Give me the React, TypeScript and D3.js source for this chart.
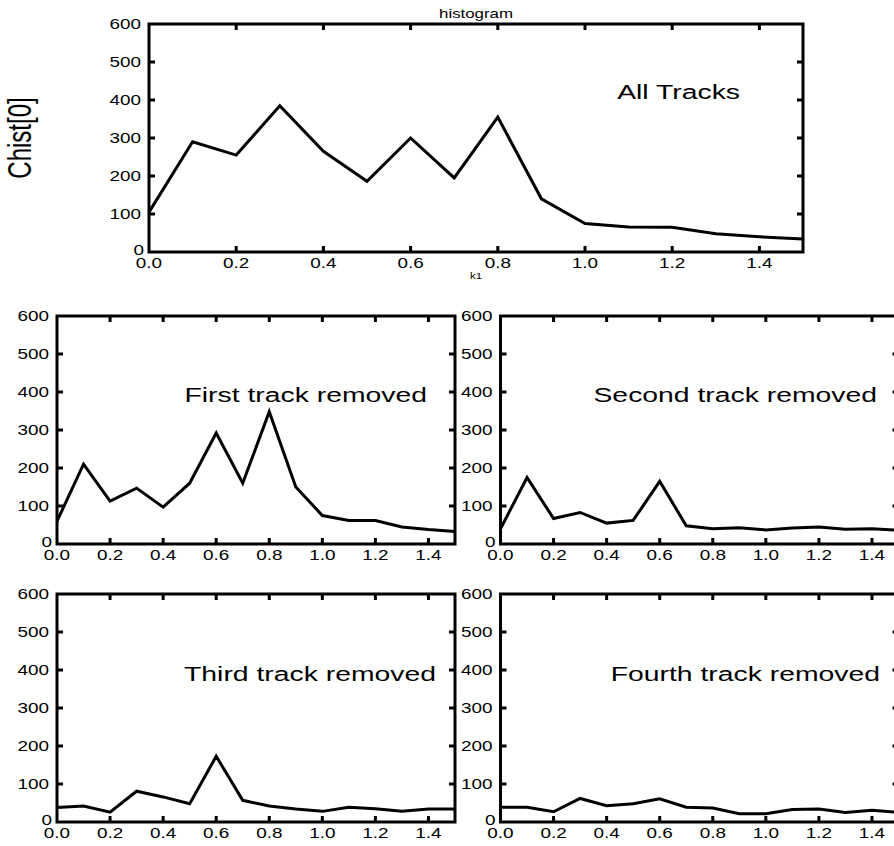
import React from 'react';
import * as d3 from 'd3';

const K1 = [0.0, 0.1, 0.2, 0.3, 0.4, 0.5, 0.6, 0.7, 0.8, 0.9, 1.0, 1.1, 1.2, 1.3, 1.4, 1.5];
const ALL_TRACKS = [105, 290, 255, 385, 265, 186, 300, 195, 355, 140, 75, 66, 65, 48, 40, 34];
const FIRST_REMOVED = [60, 210, 113, 147, 97, 160, 292, 160, 348, 150, 75, 62, 62, 45, 38, 33];
const SECOND_REMOVED = [40, 175, 67, 83, 55, 62, 165, 48, 40, 43, 37, 42, 45, 39, 40, 36];
const THIRD_REMOVED = [38, 42, 26, 81, 66, 48, 173, 57, 42, 34, 28, 39, 35, 28, 34, 34];
const FOURTH_REMOVED = [39, 39, 27, 62, 43, 48, 61, 39, 37, 22, 22, 33, 34, 25, 31, 25];
const X_TICKS = [0.0, 0.2, 0.4, 0.6, 0.8, 1.0, 1.2, 1.4];
const Y_TICKS = [0, 100, 200, 300, 400, 500, 600];
const X_DOMAIN = [0, 1.5];
const Y_DOMAIN = [0, 600];

const FONT = '"Liberation Sans", Arial, Helvetica, sans-serif';
const SX = 1.35;

type TxtProps = { x: number; y: number; size: number; anchor?: string; rotate?: number; children: React.ReactNode };
function Txt({ x, y, size, anchor = 'start', rotate = 0, children }: TxtProps) {
  const t = `translate(${x},${y}) scale(${SX},1)` + (rotate ? ` rotate(${rotate})` : '');
  return (
    <text transform={t} fontFamily={FONT} fontSize={size} textAnchor={anchor} fill="#000">
      {children}
    </text>
  );
}

type PanelProps = {
  left: number; top: number; width: number; height: number;
  values: number[]; label: string; labelDx: number; labelDy: number;
};

function Panel({ left, top, width, height, values, label, labelDx, labelDy }: PanelProps) {
  const x = d3.scaleLinear().domain(X_DOMAIN).range([left, left + width]);
  const y = d3.scaleLinear().domain(Y_DOMAIN).range([top + height, top]);
  const line = d3.line<number>().x((_, i) => x(K1[i])).y((d) => y(d));
  const fmt = d3.format('.1f');
  const tl = 6;
  const bottom = top + height;
  const right = left + width;
  return (
    <g>
      <path d={line(values) || ''} fill="none" stroke="#000" strokeWidth={3} strokeLinejoin="miter" />
      {X_TICKS.slice(1).map((t) => (
        <g key={'xt' + t}>
          <line x1={x(t)} x2={x(t)} y1={bottom} y2={bottom - tl} stroke="#000" strokeWidth={3} />
          <line x1={x(t)} x2={x(t)} y1={top} y2={top + tl} stroke="#000" strokeWidth={3} />
        </g>
      ))}
      {Y_TICKS.slice(1, -1).map((t) => (
        <g key={'yt' + t}>
          <line x1={left} x2={left + tl} y1={y(t)} y2={y(t)} stroke="#000" strokeWidth={3} />
          <line x1={right} x2={right - tl} y1={y(t)} y2={y(t)} stroke="#000" strokeWidth={3} />
        </g>
      ))}
      <rect x={left} y={top} width={width} height={height} fill="none" stroke="#000" strokeWidth={3} />
      {X_TICKS.map((t) => (
        <Txt key={'xl' + t} x={x(t)} y={bottom + 15.5} size={14} anchor="middle">{fmt(t)}</Txt>
      ))}
      {Y_TICKS.map((t) => (
        <Txt key={'yl' + t} x={left - (t === 0 ? 5 : 8)} y={y(t) + (t === 0 ? 2.5 : 5)} size={14} anchor="end">{String(t)}</Txt>
      ))}
      <Txt x={right + labelDx} y={top + labelDy} size={21} anchor="end">{label}</Txt>
    </g>
  );
}

export default function App() {
  const topLeft = 149, topTop = 24, topW = 654, H = 228;
  return (
    <svg width={894} height={846} style={{ position: 'absolute', left: 0, top: 0, background: '#fff' }}>
      <rect x={0} y={0} width={894} height={846} fill="#fff" />
      <Panel left={topLeft} top={topTop} width={topW} height={H} values={ALL_TRACKS} label="All Tracks" labelDx={-63} labelDy={75} />
      <Txt x={topLeft + topW / 2} y={18} size={12.5} anchor="middle">histogram</Txt>
      <Txt x={topLeft + topW / 2} y={279} size={8.5} anchor="middle">k1</Txt>
      <Txt x={31} y={topTop + H / 2} size={24} anchor="middle" rotate={-90}>Chist[0]</Txt>

      <Panel left={57} top={316} width={398} height={H} values={FIRST_REMOVED} label="First track removed" labelDx={-28} labelDy={86} />
      <Panel left={500.5} top={316} width={398} height={H} values={SECOND_REMOVED} label="Second track removed" labelDx={-21.5} labelDy={86} />
      <Panel left={57} top={594} width={398} height={H} values={THIRD_REMOVED} label="Third track removed" labelDx={-19} labelDy={87} />
      <Panel left={500.5} top={594} width={398} height={H} values={FOURTH_REMOVED} label="Fourth track removed" labelDx={-18.5} labelDy={87} />
    </svg>
  );
}
